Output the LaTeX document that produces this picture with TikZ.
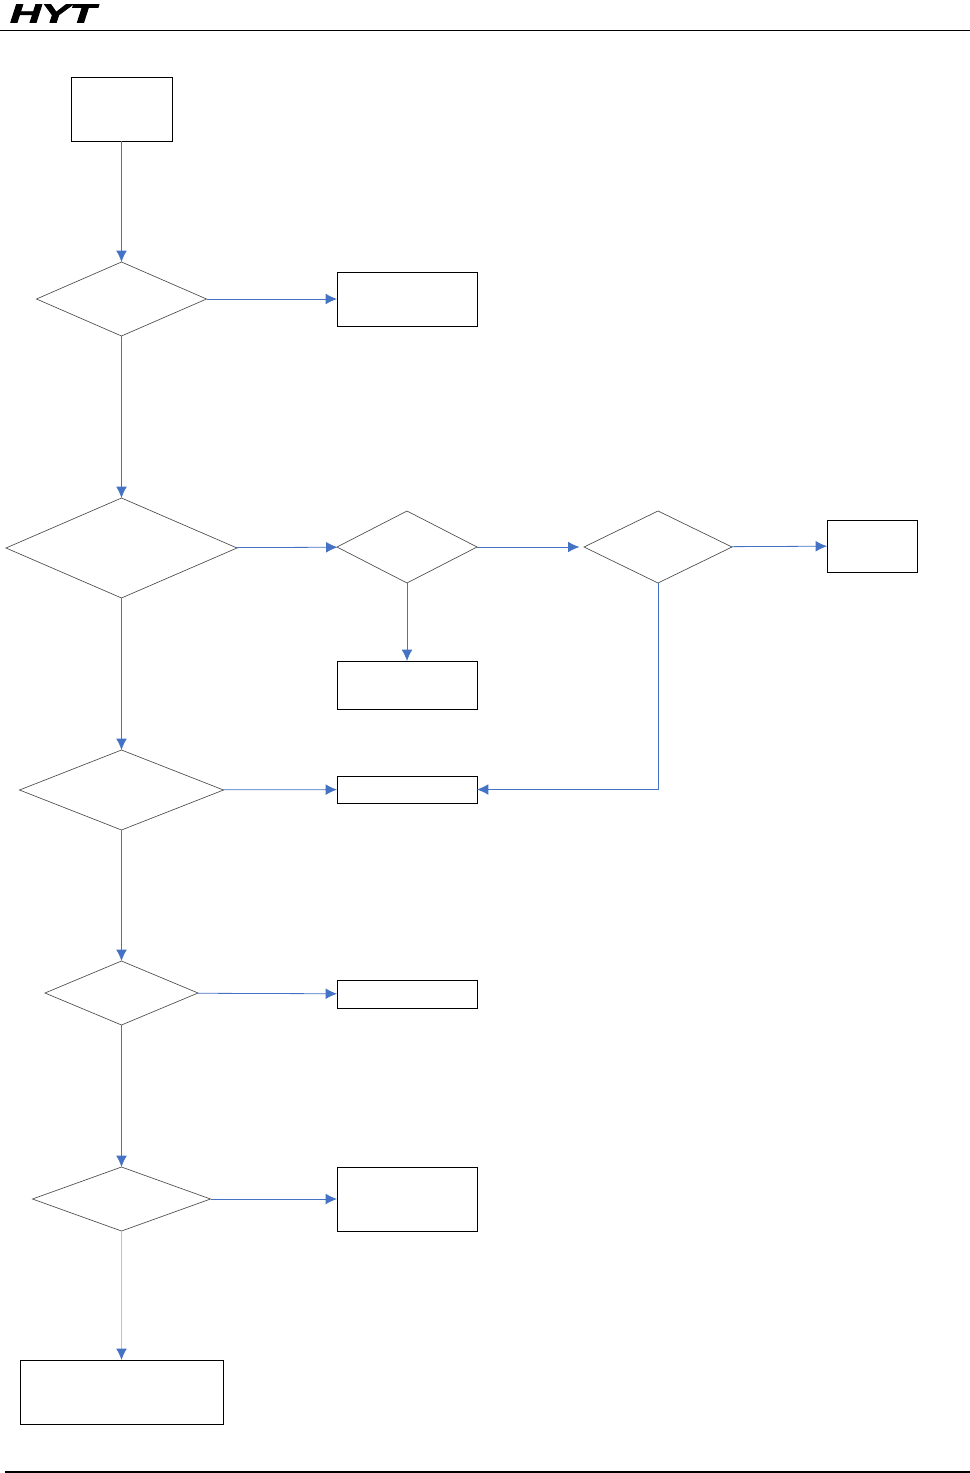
\documentclass[tikz,border=0pt]{standalone}
\usepackage{fontspec}
\setmainfont{Liberation Sans}
\newfontfamily\logofont{Liberation Sans}[BoldItalicFeatures={FakeBold=2.5}]
\usetikzlibrary{shapes.geometric,arrows.meta}
\definecolor{flowblue}{HTML}{4472C4}
\definecolor{flowpale}{HTML}{B4C4E2}
\tikzset{
  stepbox/.style={draw=black,line width=0.6pt,inner sep=0pt,outer sep=0pt},
  testbox/.style={diamond,draw=black!70,line width=0.5pt,inner sep=0pt,outer sep=0pt},
  flow/.style={draw=flowblue,line width=0.6pt,-{Latex[length=8.5pt,width=8pt,flowblue]}},
}
\begin{document}
\begin{tikzpicture}[x=0.75pt,y=0.75pt,yscale=-1,xscale=1]
\useasboundingbox (0,0) rectangle (970,1473);

% header and footer
\node [inner sep=0pt,xscale=1.65,font=\fontsize{19.5}{19.5}\selectfont\logofont\bfseries\itshape] (logo) at (53,13.5) {HYT};
\coordinate (topl) at (0,30);
\coordinate (topr) at (970,30);
\coordinate (botl) at (5,1471.5);
\coordinate (botr) at (970,1471.5);
\draw [line width=0.6pt] (topl) -- (topr);
\draw [line width=1.5pt] (botl) -- (botr);

% left column
\node [stepbox,minimum width=75.75pt,minimum height=48pt] (start) at (121.5,109) {};
\node [testbox,minimum width=127.5pt,minimum height=55.5pt] (testa) at (121.5,299) {};
\node [testbox,minimum width=173.25pt,minimum height=75pt] (testb) at (121.5,548) {};
\node [testbox,minimum width=153pt,minimum height=60pt] (testc) at (121.5,790) {};
\node [testbox,minimum width=114.75pt,minimum height=48pt] (testd) at (121.5,993) {};
\node [testbox,minimum width=133.5pt,minimum height=48pt] (teste) at (121.5,1199) {};
\node [stepbox,minimum width=152.25pt,minimum height=48pt] (finish) at (121.5,1392) {};

% middle column
\node [stepbox,minimum width=105pt,minimum height=40.5pt] (boxa) at (407,299) {};
\node [testbox,minimum width=105pt,minimum height=54pt] (testf) at (407,547) {};
\node [stepbox,minimum width=105pt,minimum height=36pt] (boxb) at (407,685) {};
\node [stepbox,minimum width=105pt,minimum height=20.25pt] (boxc) at (407,789.5) {};
\node [stepbox,minimum width=105pt,minimum height=21pt] (boxd) at (407,994) {};
\node [stepbox,minimum width=105pt,minimum height=48pt] (boxe) at (407,1199) {};

% right column
\node [testbox,minimum width=111pt,minimum height=54pt] (testg) at (658,547) {};
\node [stepbox,minimum width=67.5pt,minimum height=39pt] (boxf) at (872,546) {};

% connectors
\draw [flow] (start) -- (testa);
\draw [flow] (testa) -- (testb);
\draw [flow] (testb) -- (testc);
\draw [flow] (testc) -- (testd);
\draw [flow] (testd) -- (teste);
\draw [flow,draw=flowpale] (teste) -- (finish);
\draw [flow] (testa) -- (boxa);
\draw [flow] (testb) -- (testf);
\draw [flow] (testf) -- (boxb);
\draw [flow,shorten >=3.5pt] (testf) -- (testg);
\draw [flow] (testg) -- (boxf);
\draw [flow] (testc) -- (boxc);
\draw [flow] (testg.south) |- (boxc.east);
\draw [flow] (testd) -- (boxd);
\draw [flow] (teste) -- (boxe);

\end{tikzpicture}
\end{document}
